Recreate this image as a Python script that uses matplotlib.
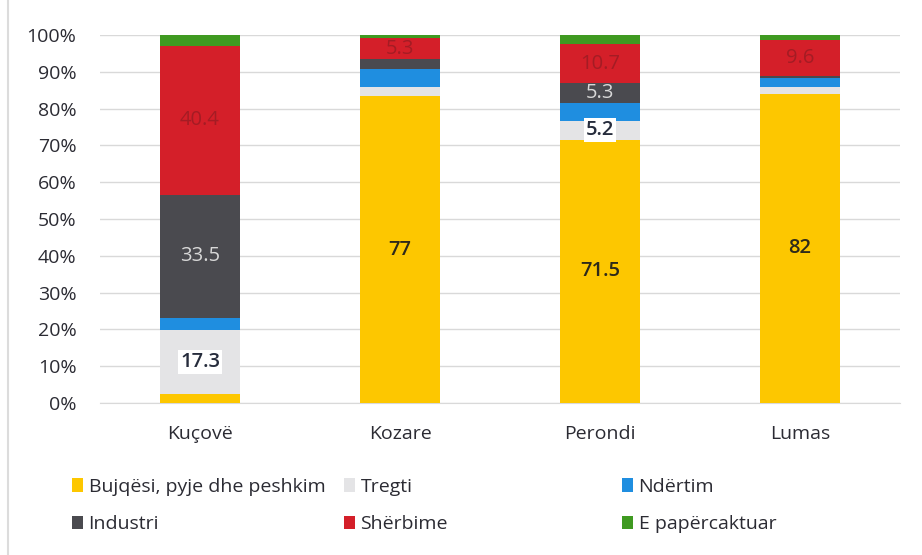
import matplotlib
matplotlib.use("Agg")
import matplotlib.pyplot as plt
import numpy as np
from matplotlib.patches import Patch
from matplotlib.lines import Line2D

plt.rcParams['font.family'] = ['Open Sans', 'DejaVu Sans']

categories = ["Kuçovë", "Kozare", "Perondi", "Lumas"]
series_names = ["Bujqësi, pyje dhe peshkim", "Tregti", "Ndërtim",
                "Industri", "Shërbime", "E papërcaktuar"]
bujqesi = [2.5, 77, 71.5, 82]
tregti = [17.3, 2.2, 5.2, 1.9]
ndertim = [3.3, 4.5, 4.9, 2.2]
industri = [33.5, 2.5, 5.3, 0.5]
sherbime = [40.4, 5.3, 10.7, 9.6]
papercaktuar = [3.0, 0.8, 2.4, 1.4]
yticks = [0, 10, 20, 30, 40, 50, 60, 70, 80, 90, 100]

colors = ["#FDC700", "#E4E4E6", "#1F8EE0", "#4A4A4F", "#D41F29", "#3F9A21"]
label_colors = ["#2E2A1A", "#262C3C", "#FFFFFF", "#D8D8D8", "#A41C24", "#FFFFFF"]

series = [bujqesi, tregti, ndertim, industri, sherbime, papercaktuar]
data = np.array(series, dtype=float)
totals = data.sum(axis=0)
pct = data / totals * 100

fig = plt.figure(figsize=(9.22, 5.55), dpi=100)
ax = fig.add_axes([100/922, 1-403/555, 800/922, (403-35)/555])

x = np.arange(len(categories))
bottom = np.zeros(len(categories))
handles = []
for i, (name, vals) in enumerate(zip(series_names, pct)):
    ax.bar(x, vals, width=0.4, bottom=bottom, color=colors[i], zorder=3,
           linewidth=0.0)
    for j in range(len(categories)):
        raw = data[i, j]
        if raw >= 5:
            yc = bottom[j] + vals[j] / 2
            kw = {}
            if i == 1:
                kw['bbox'] = dict(boxstyle='square,pad=0.1', fc='white', ec='none')
            weight = 'semibold' if i in (0, 1) else 'normal'
            ax.text(x[j], yc, f"{raw:g}", ha='center', va='center',
                    fontsize=14.5, color=label_colors[i], zorder=4,
                    fontweight=weight, **kw)
    bottom += vals
    handles.append(Patch(facecolor=colors[i], edgecolor='none'))

ax.set_xlim(-0.5, 3.5)
ax.set_ylim(0, 100)
ax.set_yticks(yticks)
ax.set_yticklabels([f"{t}%" for t in yticks])
ax.set_xticks(x)
ax.set_xticklabels(categories)
ax.yaxis.grid(True, color='#D9D9D9', linewidth=1, zorder=0)
for s in ['top', 'right', 'left']:
    ax.spines[s].set_visible(False)
ax.spines['bottom'].set_color('#D9D9D9')
ax.tick_params(axis='both', length=0, labelsize=14, colors='#2B2B33')
ax.tick_params(axis='y', pad=17)
ax.tick_params(axis='x', pad=16)

# legend: three columns, two rows
col_x = [72/922, 344/922, 622/922]
for c in range(3):
    hs = [handles[c], handles[c + 3]]
    ls = [series_names[c], series_names[c + 3]]
    leg = fig.legend(hs, ls, loc='upper left', bbox_to_anchor=(col_x[c], 1-478/555),
                     frameon=False, ncol=1, fontsize=14, handlelength=0.55,
                     handleheight=0.7, handletextpad=0.3, labelspacing=1.0,
                     borderaxespad=0, borderpad=0)
    for t in leg.get_texts():
        t.set_color('#2B2B33')

# chart frame line at left
fig.add_artist(Line2D([8/922, 8/922], [0, 1], color='#DCDCDC', linewidth=1.5,
                      transform=fig.transFigure))

fig.savefig("out.png", dpi=100)
